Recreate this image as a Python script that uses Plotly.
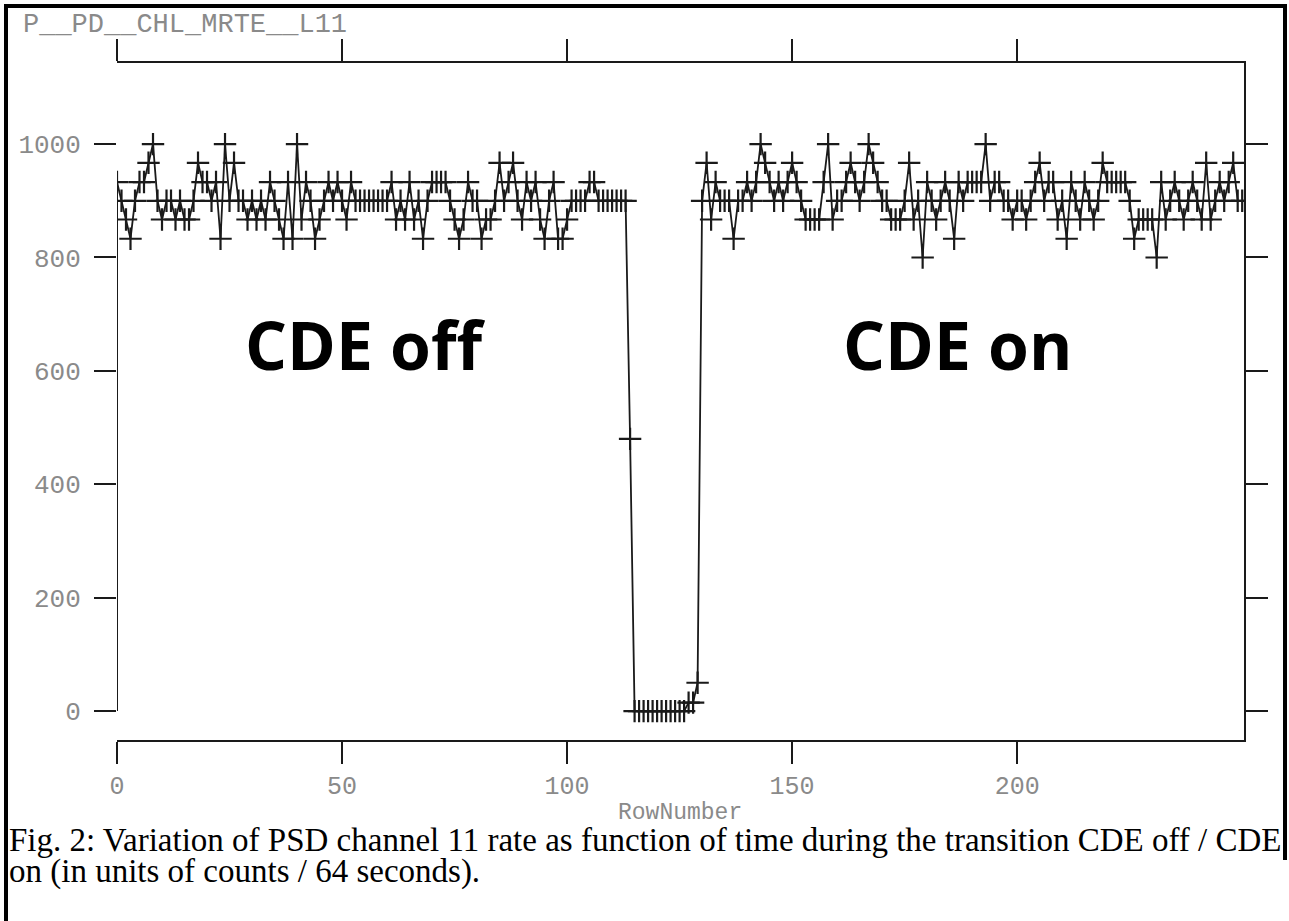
import plotly.graph_objects as go

# ---- data ----
row_number = list(range(251))
rate = [
    933, 900, 867, 833, 900, 933, 933, 967, 1000, 900,
    867, 900, 900, 867, 900, 867, 867, 900, 967, 933,
    933, 900, 933, 833, 1000, 900, 967, 900, 900, 867,
    900, 867, 900, 867, 933, 900, 867, 833, 933, 833,
    1000, 867, 933, 900, 833, 867, 900, 933, 900, 933,
    900, 867, 933, 900, 900, 900, 900, 900, 900, 900,
    900, 933, 867, 900, 867, 933, 867, 900, 833, 900,
    933, 933, 933, 933, 900, 867, 833, 867, 933, 900,
    900, 833, 867, 867, 900, 967, 900, 933, 967, 900,
    867, 933, 900, 933, 867, 833, 900, 933, 833, 833,
    867, 900, 900, 900, 900, 933, 933, 900, 900, 900,
    900, 900, 900, 900, 480, 0, 0, 0, 0, 0,
    0, 0, 0, 0, 0, 0, 0, 15, 15, 50,
    900, 967, 867, 933, 900, 900, 900, 833, 900, 900,
    933, 900, 933, 1000, 967, 933, 900, 933, 900, 933,
    967, 933, 900, 867, 867, 867, 867, 933, 1000, 867,
    900, 900, 933, 967, 933, 900, 933, 1000, 967, 933,
    900, 900, 867, 867, 867, 900, 967, 867, 900, 800,
    933, 900, 867, 900, 933, 900, 833, 933, 900, 933,
    933, 933, 933, 1000, 900, 933, 933, 900, 900, 867,
    900, 900, 867, 900, 933, 967, 900, 933, 933, 867,
    900, 833, 933, 900, 867, 933, 900, 867, 900, 967,
    933, 933, 933, 933, 933, 900, 833, 867, 867, 867,
    867, 800, 933, 867, 900, 933, 900, 867, 900, 933,
    900, 867, 967, 867, 900, 933, 900, 933, 967, 900,
    900,
]
x_ticks = [0, 50, 100, 150, 200]
y_ticks = [0, 200, 400, 600, 800, 1000]
x_range = [0, 250.4]
y_range = [-51, 1143]

series_name = "P__PD__CHL_MRTE__L11"
x_title = "RowNumber"
label_off = "CDE off"
label_on = "CDE on"
caption_1 = "Fig. 2: Variation of PSD channel 11 rate as function of time during the transition CDE off / CDE"
caption_2 = "on (in units of counts / 64 seconds)."

# ---- layout geometry (pixels) ----
W, H = 1289, 921
L, R, T, B = 117, 1244, 63, 740
pw, ph = R - L, B - T


def px(x):
    return (x - L) / pw


def py(y):
    return (B - y) / ph


ink = "#1a1a1a"
gray = "#8a8a8a"
mono = "Liberation Mono, Courier New, monospace"
serif = "Liberation Serif, Times New Roman, serif"

fig = go.Figure()

fig.add_trace(go.Scatter(
    x=row_number, y=rate, mode="lines+markers",
    line=dict(color=ink, width=1.8),
    marker=dict(symbol="cross-thin", size=16, line=dict(color=ink, width=2.2)),
    showlegend=False, hoverinfo="x+y",
))
# vertical segment from zero to the first sample (drawn at the left edge)
fig.add_trace(go.Scatter(
    x=[row_number[0], row_number[0]], y=[0, rate[0]], mode="lines",
    line=dict(color=ink, width=2), yaxis="y2",
    showlegend=False, hoverinfo="skip",
))

axis_common = dict(
    showgrid=False, zeroline=False, ticks="outside", ticklen=22,
    tickwidth=2, tickcolor=ink, linecolor=ink, linewidth=2,
)

fig.update_layout(
    width=W, height=H,
    margin=dict(l=L, r=W - R, t=T, b=H - B, pad=0),
    paper_bgcolor="white", plot_bgcolor="white",
    showlegend=False,
    xaxis=dict(
        range=x_range, tickvals=x_ticks, showline=True, mirror="ticks",
        tickfont=dict(family=mono, size=25, color=gray),
        **axis_common,
    ),
    yaxis=dict(
        range=y_range, tickvals=y_ticks, showline=False,
        tickfont=dict(family=mono, size=26, color=gray),
        ticklabelstandoff=8,
        **axis_common,
    ),
    yaxis2=dict(
        range=y_range, tickvals=y_ticks, showline=True, overlaying="y",
        side="right", showticklabels=False,
        **axis_common,
    ),
)

annotations = [
    dict(text=series_name, x=px(21), y=py(25), xanchor="left", yanchor="middle",
         font=dict(family=mono, size=27, color=gray)),
    dict(text=x_title, x=px(680), y=py(813), xanchor="center", yanchor="middle",
         font=dict(family=mono, size=23, color=gray)),
    dict(text="<b>" + label_off + "</b>", x=px(365), y=py(344), xanchor="center",
         yanchor="middle", font=dict(family="Open Sans, DejaVu Sans", size=66, color="black")),
    dict(text="<b>" + label_on + "</b>", x=px(957), y=py(344), xanchor="center",
         yanchor="middle", font=dict(family="Open Sans, DejaVu Sans", size=66, color="black")),
    dict(text=caption_1, x=px(7), y=py(840), xanchor="left", yanchor="middle",
         font=dict(family=serif, size=33, color="black")),
    dict(text=caption_2, x=px(7), y=py(871), xanchor="left", yanchor="middle",
         font=dict(family=serif, size=33, color="black")),
]
for a in annotations:
    a.update(xref="paper", yref="paper", showarrow=False)
fig.update_layout(annotations=annotations)

# outer figure border
bw = 4
fig.add_shape(type="line", xref="paper", yref="paper", x0=px(4), x1=px(1287), y0=py(6), y1=py(6),
              line=dict(color="black", width=bw))
fig.add_shape(type="line", xref="paper", yref="paper", x0=px(6), x1=px(6), y0=py(4), y1=py(921),
              line=dict(color="black", width=bw))
fig.add_shape(type="line", xref="paper", yref="paper", x0=px(1285), x1=px(1285), y0=py(4), y1=py(860),
              line=dict(color="black", width=bw))

fig.write_html(
    "out.html",
    config={"displayModeBar": False},
    post_script="document.body.style.margin='0';document.body.style.overflow='hidden';",
)
